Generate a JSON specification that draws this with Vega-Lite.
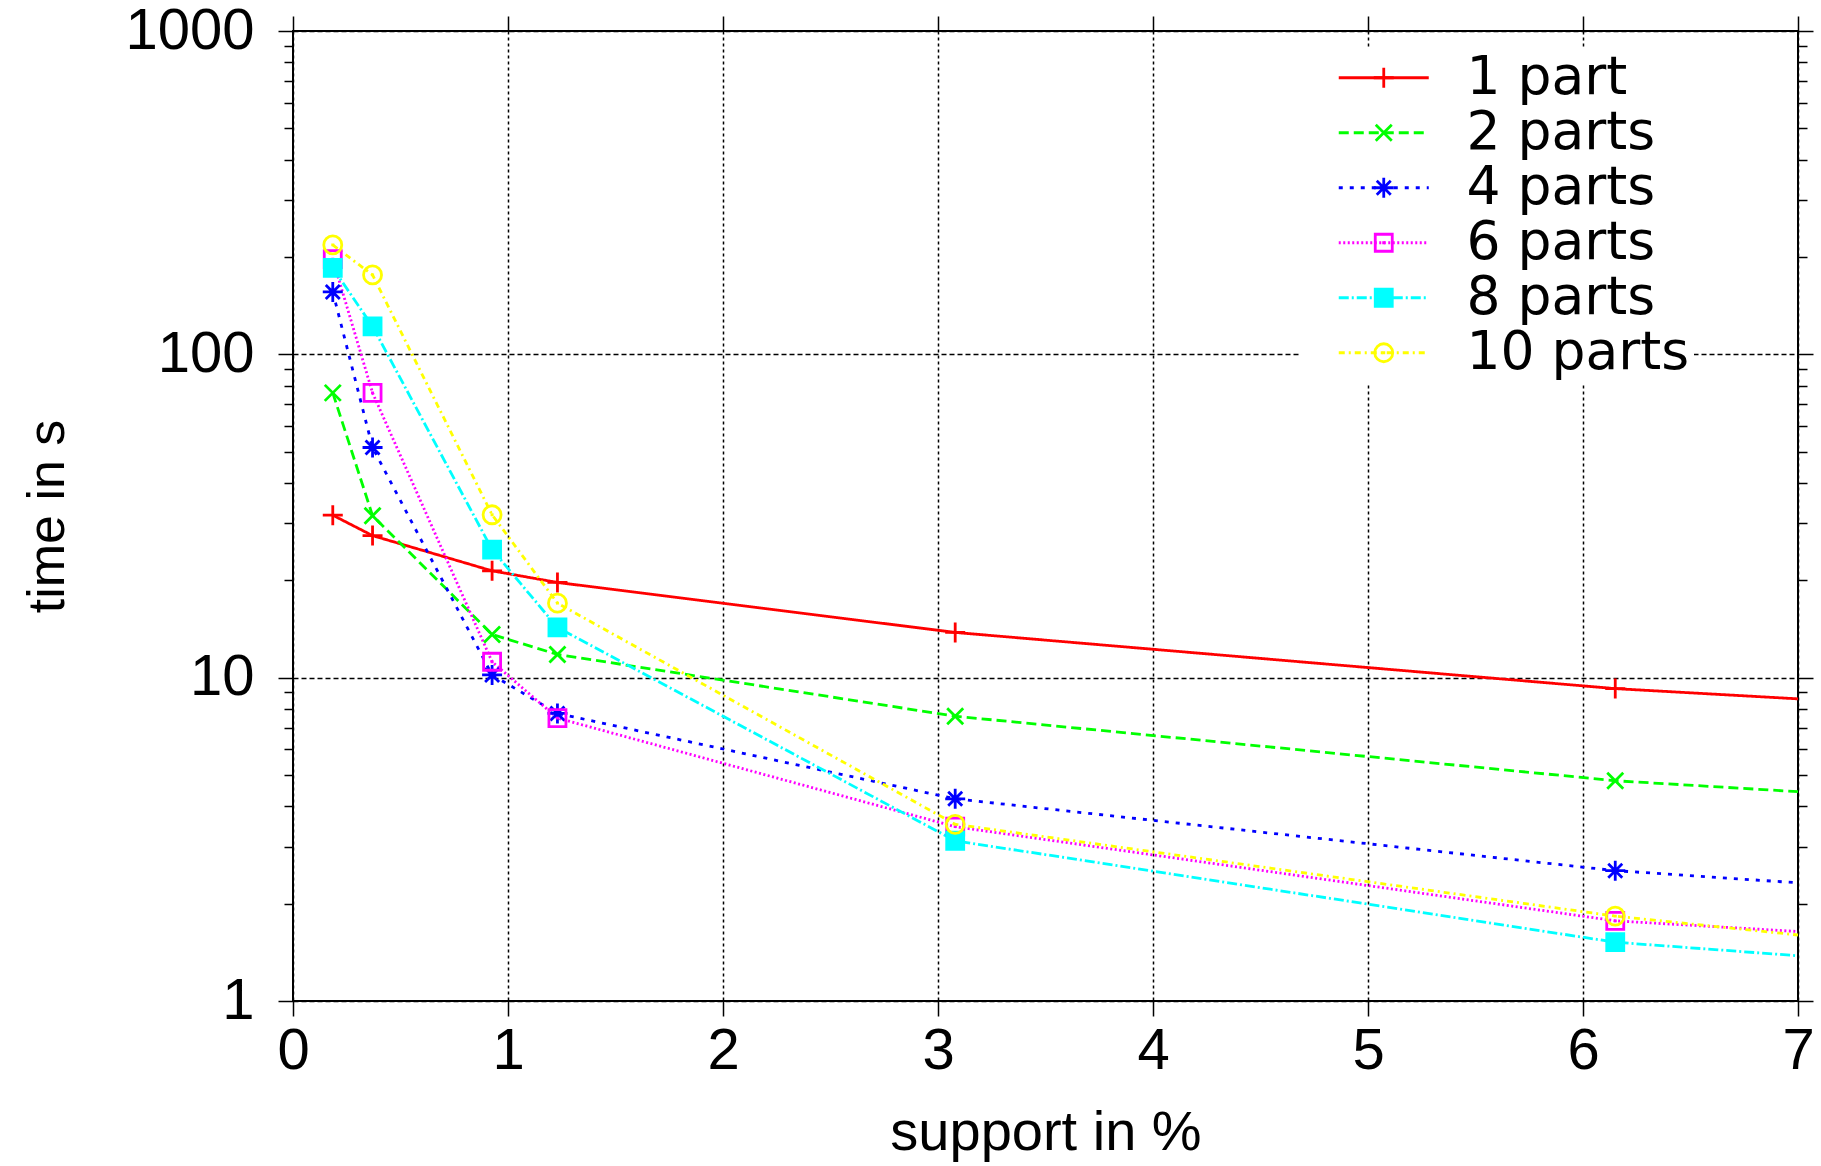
{
  "$schema": "https://vega.github.io/schema/vega-lite/v6.json",
  "width": 1505,
  "height": 970,
  "autosize": "none",
  "padding": {"left": 293, "top": 31, "right": 23, "bottom": 165},
  "background": "white",
  "config": {
    "view": {"stroke": "black", "strokeWidth": 2},
    "axis": {
      "labelFont": "Liberation Sans",
      "titleFont": "Liberation Sans",
      "labelColor": "black",
      "titleColor": "black",
      "titleFontWeight": "normal",
      "tickColor": "black",
      "tickWidth": 1.5,
      "domain": false,
      "gridColor": "black",
      "gridOpacity": 1,
      "gridWidth": 1.5
    },
    "legend": {"labelFont": "DejaVu Sans"}
  },
  "data": {
    "values": [
      {"series": "1 part", "parts": 1, "support": 0.185, "time": 31.8},
      {"series": "1 part", "parts": 1, "support": 0.37, "time": 27.5},
      {"series": "1 part", "parts": 1, "support": 0.926, "time": 21.4},
      {"series": "1 part", "parts": 1, "support": 1.23, "time": 19.7},
      {"series": "1 part", "parts": 1, "support": 3.08, "time": 13.8},
      {"series": "1 part", "parts": 1, "support": 6.15, "time": 9.25},
      {"series": "1 part", "parts": 1, "support": 7, "time": 8.6},
      {"series": "2 parts", "parts": 2, "support": 0.185, "time": 76},
      {"series": "2 parts", "parts": 2, "support": 0.37, "time": 31.7},
      {"series": "2 parts", "parts": 2, "support": 0.926, "time": 13.6},
      {"series": "2 parts", "parts": 2, "support": 1.23, "time": 11.8},
      {"series": "2 parts", "parts": 2, "support": 3.08, "time": 7.6},
      {"series": "2 parts", "parts": 2, "support": 6.15, "time": 4.8},
      {"series": "2 parts", "parts": 2, "support": 7, "time": 4.44},
      {"series": "4 parts", "parts": 4, "support": 0.185, "time": 156},
      {"series": "4 parts", "parts": 4, "support": 0.37, "time": 51.5},
      {"series": "4 parts", "parts": 4, "support": 0.926, "time": 10.2},
      {"series": "4 parts", "parts": 4, "support": 1.23, "time": 7.75},
      {"series": "4 parts", "parts": 4, "support": 3.08, "time": 4.22},
      {"series": "4 parts", "parts": 4, "support": 6.15, "time": 2.53},
      {"series": "4 parts", "parts": 4, "support": 7, "time": 2.32},
      {"series": "6 parts", "parts": 6, "support": 0.185, "time": 197},
      {"series": "6 parts", "parts": 6, "support": 0.37, "time": 76},
      {"series": "6 parts", "parts": 6, "support": 0.926, "time": 11.2},
      {"series": "6 parts", "parts": 6, "support": 1.23, "time": 7.5},
      {"series": "6 parts", "parts": 6, "support": 3.08, "time": 3.46},
      {"series": "6 parts", "parts": 6, "support": 6.15, "time": 1.77},
      {"series": "6 parts", "parts": 6, "support": 7, "time": 1.64},
      {"series": "8 parts", "parts": 8, "support": 0.185, "time": 185},
      {"series": "8 parts", "parts": 8, "support": 0.37, "time": 122},
      {"series": "8 parts", "parts": 8, "support": 0.926, "time": 24.9},
      {"series": "8 parts", "parts": 8, "support": 1.23, "time": 14.3},
      {"series": "8 parts", "parts": 8, "support": 3.08, "time": 3.13},
      {"series": "8 parts", "parts": 8, "support": 6.15, "time": 1.52},
      {"series": "8 parts", "parts": 8, "support": 7, "time": 1.38},
      {"series": "10 parts", "parts": 10, "support": 0.185, "time": 218},
      {"series": "10 parts", "parts": 10, "support": 0.37, "time": 176},
      {"series": "10 parts", "parts": 10, "support": 0.926, "time": 31.9},
      {"series": "10 parts", "parts": 10, "support": 1.23, "time": 17},
      {"series": "10 parts", "parts": 10, "support": 3.08, "time": 3.52},
      {"series": "10 parts", "parts": 10, "support": 6.15, "time": 1.83},
      {"series": "10 parts", "parts": 10, "support": 7, "time": 1.6}
    ]
  },
  "resolve": {"axis": {"x": "independent", "y": "independent"}},
  "layer": [
    {
      "mark": {"type": "line", "interpolate": "linear", "strokeWidth": 2.8},
      "encoding": {
        "x": {
          "field": "support", "type": "quantitative",
          "scale": {"domain": [0, 7], "nice": false, "zero": false},
          "axis": {
            "orient": "bottom", "values": [0, 1, 2, 3, 4, 5, 6, 7],
            "title": "support in %", "titleFontSize": 56, "titlePadding": 25,
            "labelFontSize": 58, "labelPadding": 6, "tickSize": 15,
            "grid": true, "gridDash": [3, 3], "labelFlush": false
          }
        },
        "y": {
          "field": "time", "type": "quantitative",
          "scale": {"type": "log", "domain": [1, 1000], "nice": false},
          "axis": {
            "orient": "left", "values": [1, 10, 100, 1000], "format": "d",
            "title": "time in s", "titleFontSize": 52, "titlePadding": 50,
            "labelFontSize": 58, "labelPadding": 24, "tickSize": 15,
            "grid": true, "gridDash": [5, 3]
          }
        },
        "color": {
          "field": "series", "type": "nominal",
          "scale": {
            "domain": ["1 part", "2 parts", "4 parts", "6 parts", "8 parts", "10 parts"],
            "range": ["#ff0000", "#00ff00", "#0000ff", "#ff00ff", "#00ffff", "#ffff00"]
          },
          "legend": {
            "orient": "none", "legendX": 1007, "legendY": 16,
            "title": null, "symbolType": "M-4.5,0L4.5,0", "symbolSize": 400,
            "symbolStrokeWidth": 2.8, "symbolOffset": 53,
            "labelFontSize": 53.5, "labelColor": "black", "labelOffset": 56,
            "labelLimit": 400,
            "fillColor": "white", "padding": 4, "rowPadding": 0
          }
        },
        "strokeDash": {
          "field": "series", "type": "nominal",
          "scale": {
            "domain": ["1 part", "2 parts", "4 parts", "6 parts", "8 parts", "10 parts"],
            "range": [[1, 0], [10, 5], [4, 7], [2, 2.5], [10, 3, 2, 3], [6, 4, 2, 4]]
          }
        }
      }
    },
    {
      "transform": [{"filter": "datum.support < 7"}],
      "mark": {"type": "point", "filled": false, "strokeWidth": 2.8, "size": 400, "opacity": 1},
      "encoding": {
        "x": {
          "field": "support", "type": "quantitative",
          "axis": {
            "orient": "top", "values": [0, 1, 2, 3, 4, 5, 6, 7],
            "labels": false, "title": null, "tickSize": 15, "grid": false
          }
        },
        "y": {
          "field": "time", "type": "quantitative",
          "axis": {
            "orient": "left",
            "values": [2, 3, 4, 5, 6, 7, 8, 9, 20, 30, 40, 50, 60, 70, 80, 90, 200, 300, 400, 500, 600, 700, 800, 900],
            "labels": false, "title": null, "tickSize": 9, "grid": false
          }
        },
        "shape": {
          "field": "parts", "type": "ordinal",
          "scale": {
            "domain": [1, 2, 4, 6, 8, 10],
            "range": [
              "M-1,0L1,0M0,-1L0,1",
              "M-0.8,-0.8L0.8,0.8M-0.8,0.8L0.8,-0.8",
              "M-1,0L1,0M0,-1L0,1M-0.7,-0.7L0.7,0.7M-0.7,0.7L0.7,-0.7",
              "M-0.85,-0.85L0.85,-0.85L0.85,0.85L-0.85,0.85ZM-0.15,0L0.15,0",
              "M-0.85,-0.85L0.85,-0.85L0.85,0.85L-0.85,0.85Z",
              "M0.9,0A0.9,0.9 0 1,1 -0.9,0A0.9,0.9 0 1,1 0.9,0ZM-0.15,0L0.15,0"
            ]
          },
          "legend": {
            "orient": "none", "legendX": 1007, "legendY": 16,
            "title": null, "symbolOffset": 53, "symbolSize": 400,
            "symbolStrokeWidth": 2.8,
            "labelFontSize": 53.5, "labelColor": "transparent", "labelOffset": 56,
            "labelExpr": "' '",
            "padding": 4, "rowPadding": 0
          }
        },
        "stroke": {
          "field": "parts", "type": "ordinal",
          "scale": {
            "domain": [1, 2, 4, 6, 8, 10],
            "range": ["#ff0000", "#00ff00", "#0000ff", "#ff00ff", "#00ffff", "#ffff00"]
          }
        },
        "fill": {
          "field": "parts", "type": "ordinal",
          "scale": {
            "domain": [1, 2, 4, 6, 8, 10],
            "range": ["transparent", "transparent", "transparent", "transparent", "#00ffff", "transparent"]
          }
        }
      }
    },
    {
      "mark": {"type": "point", "opacity": 0},
      "encoding": {
        "x": {"field": "support", "type": "quantitative", "axis": null},
        "y": {
          "field": "time", "type": "quantitative",
          "axis": {
            "orient": "right", "values": [1, 10, 100, 1000],
            "labels": false, "title": null, "tickSize": 15, "grid": false
          }
        }
      }
    },
    {
      "mark": {"type": "point", "opacity": 0},
      "encoding": {
        "x": {"field": "support", "type": "quantitative", "axis": null},
        "y": {
          "field": "time", "type": "quantitative",
          "axis": {
            "orient": "right",
            "values": [2, 3, 4, 5, 6, 7, 8, 9, 20, 30, 40, 50, 60, 70, 80, 90, 200, 300, 400, 500, 600, 700, 800, 900],
            "labels": false, "title": null, "tickSize": 9, "grid": false
          }
        }
      }
    }
  ]
}
